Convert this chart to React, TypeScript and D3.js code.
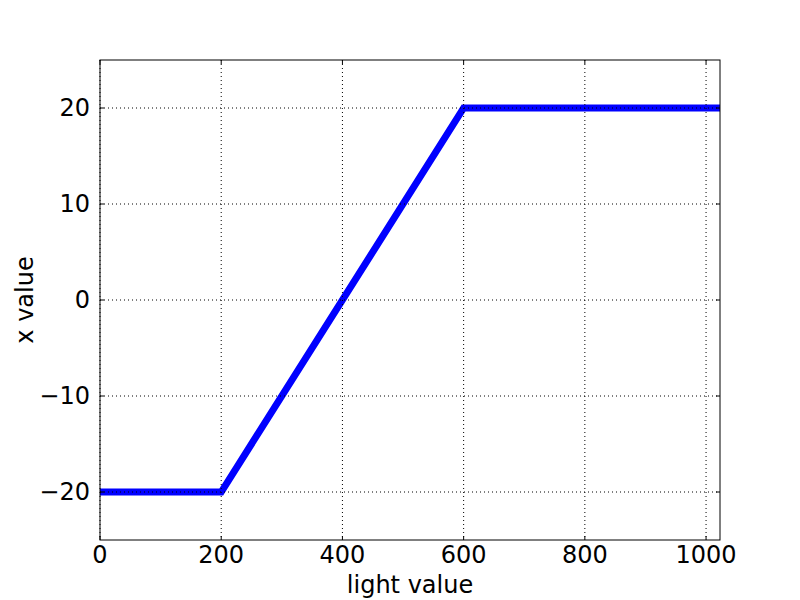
import React from "react";
import * as d3 from "d3";

// light value -> x value breakpoints
const lightValues = [0, 200, 600, 1023];
const xValues = [-20, -20, 20, 20];
const xTicks = [0, 200, 400, 600, 800, 1000];
const yTicks = [-20, -10, 0, 10, 20];

export default function App() {
  const width = 800;
  const height = 600;
  const marginLeft = 100;
  const marginRight = 80;
  const marginTop = 60;
  const marginBottom = 60;

  const x = d3
    .scaleLinear()
    .domain([0, 1023])
    .range([marginLeft, width - marginRight]);
  const y = d3
    .scaleLinear()
    .domain([-25, 25])
    .range([height - marginBottom, marginTop]);

  const line = d3
    .line<number>()
    .x((d, i) => x(lightValues[i]))
    .y((d) => y(d));

  const left = marginLeft;
  const right = width - marginRight;
  const top = marginTop;
  const bottom = height - marginBottom;
  const font = "DejaVu Sans, sans-serif";

  return (
    <svg
      width={width}
      height={height}
      style={{ position: "absolute", left: 0, top: 0, background: "white" }}
    >
      <rect x={0} y={0} width={width} height={height} fill="white" />
      <defs>
        <clipPath id="plot">
          <rect x={left} y={top} width={right - left} height={bottom - top} />
        </clipPath>
      </defs>
      <path
        d={line(xValues) ?? ""}
        fill="none"
        stroke="#0000ff"
        strokeWidth={7}
        clipPath="url(#plot)"
      />
      {/* grid */}
      <g stroke="black" strokeWidth={1} strokeDasharray="1 3">
        {xTicks.map((t) => (
          <line key={"gx" + t} x1={x(t)} x2={x(t)} y1={top} y2={bottom} />
        ))}
        {yTicks.map((t) => (
          <line key={"gy" + t} x1={left} x2={right} y1={y(t)} y2={y(t)} />
        ))}
      </g>
      {/* inward ticks */}
      <g stroke="black" strokeWidth={1}>
        {xTicks.map((t) => (
          <g key={"tx" + t}>
            <line x1={x(t)} x2={x(t)} y1={bottom} y2={bottom - 4} />
            <line x1={x(t)} x2={x(t)} y1={top} y2={top + 4} />
          </g>
        ))}
        {yTicks.map((t) => (
          <g key={"ty" + t}>
            <line x1={left} x2={left + 4} y1={y(t)} y2={y(t)} />
            <line x1={right} x2={right - 4} y1={y(t)} y2={y(t)} />
          </g>
        ))}
      </g>
      <rect
        x={left}
        y={top}
        width={right - left}
        height={bottom - top}
        fill="none"
        stroke="black"
        strokeWidth={1}
      />
      <g fontFamily={font} fontSize={24} fill="black">
        {xTicks.map((t) => (
          <text key={"lx" + t} x={x(t)} y={bottom + 23} textAnchor="middle">
            {t}
          </text>
        ))}
        {yTicks.map((t) => (
          <text
            key={"ly" + t}
            x={left - 10}
            y={y(t)}
            dy="0.34em"
            textAnchor="end"
          >
            {t < 0 ? "\u2212" + Math.abs(t) : t}
          </text>
        ))}
        <text x={(left + right) / 2} y={bottom + 53} textAnchor="middle">
          light value
        </text>
        <text
          transform={`translate(33,${(top + bottom) / 2}) rotate(-90)`}
          textAnchor="middle"
        >
          x value
        </text>
      </g>
    </svg>
  );
}
